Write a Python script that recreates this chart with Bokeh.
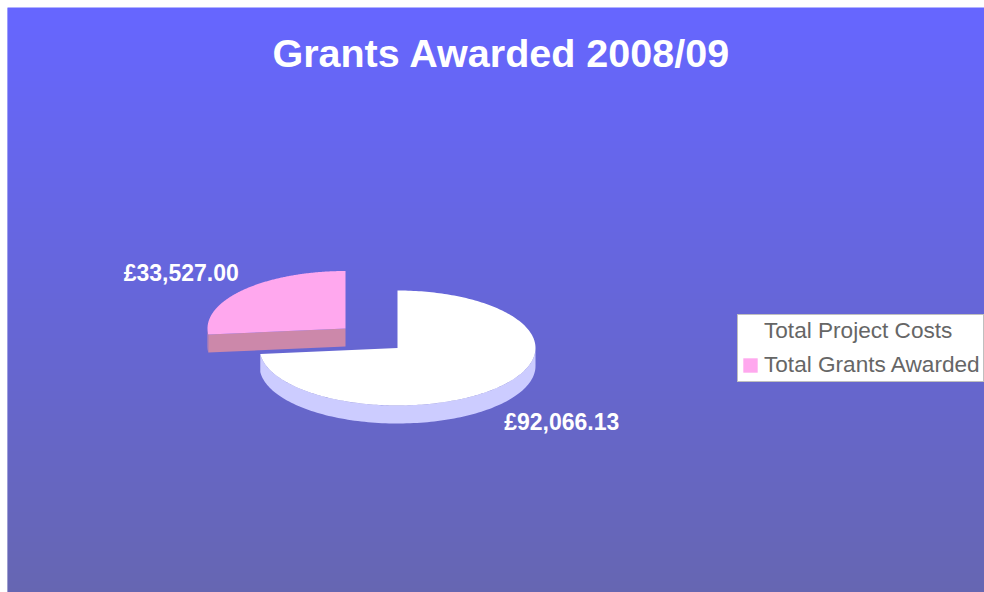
import numpy as np
from bokeh.plotting import figure
from bokeh.models import Range1d, Legend, LegendItem, Label, ColumnDataSource
from bokeh.embed import file_html
from bokeh.resources import INLINE
from bokeh.core.properties import value

# ---------------- data ----------------
chart_title = "Grants Awarded 2008/09"
categories = ["Total Project Costs", "Total Grants Awarded"]
amounts = [92066.13, 33527.00]
amount_labels = ["£92,066.13", "£33,527.00"]
top_colors = ["#FFFFFF", "#FFA8EE"]
side_colors = ["#CCCCFF", "#CC88AA"]
exploded = [False, True]

FONT = "Liberation Sans"
W, H = 984, 592

p = figure(width=W, height=H, x_range=Range1d(0, W), y_range=Range1d(H, 0),
           output_backend="svg", toolbar_location=None, min_border=0)
p.axis.visible = False
p.grid.visible = False
p.outline_line_color = None
p.background_fill_color = "white"
p.border_fill_color = "white"

# ---------------- gradient background ----------------
x0, y0 = 7, 7
ys = np.arange(y0, H)
t = (ys - y0) / (H - y0 - 1)
c_top = np.array([102, 102, 255])
c_bot = np.array([102, 102, 178])
cols = ["#%02x%02x%02x" % tuple(np.round(c_top + (c_bot - c_top) * ti).astype(int)) for ti in t]
p.quad(left=x0, right=W, top=ys, bottom=ys + 1.6, fill_color=cols, line_color=None)

# ---------------- 3D pie ----------------
cx, cy, rx, ry, depth = 397.0, 347.5, 138.0, 57.5, 18.0
explode_off = (-52.0, -19.5)
total = sum(amounts)

def pt(ccx, ccy, th, dy=0.0):
    r = np.radians(th)
    return ccx + rx * np.cos(r), ccy - ry * np.sin(r) + dy

slices = []
a = 90.0
for i, v in enumerate(amounts):
    sweep = 360.0 * v / total
    a0, a1 = a, a - sweep
    a = a1
    ex, ey = explode_off if exploded[i] else (0.0, 0.0)
    slices.append((i, a0, a1, cx + ex, cy + ey))

order = sorted(slices, key=lambda s: s[4])
top_renderers = {}
label_x, label_y = [], []
for (i, a0, a1, scx, scy) in order:
    # outer side (front-facing arcs)
    for k in range(-2, 3):
        lo, hi = max(a1, -180 + 360 * k), min(a0, 360 * k)
        if hi > lo:
            th = np.linspace(hi, lo, 120)
            xs_t, ys_t = pt(scx, scy, th)
            xs_b, ys_b = pt(scx, scy, th[::-1], depth)
            p.patch(np.concatenate([xs_t, xs_b]), np.concatenate([ys_t, ys_b]),
                    fill_color=side_colors[i], line_color=None)
    # radial faces
    for edge, normal in ((a0, a0 + 90), (a1, a1 - 90)):
        if np.sin(np.radians(normal)) < -1e-6:
            ox, oy = pt(scx, scy, edge)
            p.patch([scx, ox, ox, scx], [scy, oy, oy + depth, scy + depth],
                    fill_color=side_colors[i], line_color=None)
    # top surface
    th = np.linspace(a0, a1, 240)
    xs_t, ys_t = pt(scx, scy, th)
    top_renderers[i] = p.patch(np.concatenate([[scx], xs_t]), np.concatenate([[scy], ys_t]),
                               fill_color=top_colors[i], line_color=None)

for (i, a0, a1, scx, scy) in slices:
    mid = np.radians((a0 + a1) / 2)
    lx = scx + 1.6 * rx * np.cos(mid)
    ly = scy - 1.45 * ry * np.sin(mid) + (depth if np.sin(mid) < 0 else 0)
    label_x.append(lx)
    label_y.append(ly)

src = ColumnDataSource(dict(x=label_x, y=label_y, text=amount_labels))
p.text(x="x", y="y", text="text", source=src, text_color="white",
       text_font=value(FONT), text_font_style="bold", text_font_size="23px",
       text_align="center", text_baseline="middle")

# ---------------- title ----------------
p.add_layout(Label(x=501, y=52, text=chart_title, text_color="white",
                   text_font=FONT, text_font_style="bold", text_font_size="39.5px",
                   text_align="center", text_baseline="middle"))

# ---------------- legend ----------------
items = [LegendItem(label=categories[i], renderers=[top_renderers[i]]) for i in range(len(categories))]
legend = Legend(items=items, location=(737, 210), orientation="vertical",
                label_text_font=FONT, label_text_font_size="22.6px", label_text_color="#666666",
                glyph_width=18, glyph_height=18, label_standoff=5, padding=3, spacing=8,
                border_line_color="#808080", border_line_width=1,
                background_fill_color="white", background_fill_alpha=1.0, margin=0)
p.add_layout(legend)

open("out.html", "w").write(file_html(p, INLINE))
